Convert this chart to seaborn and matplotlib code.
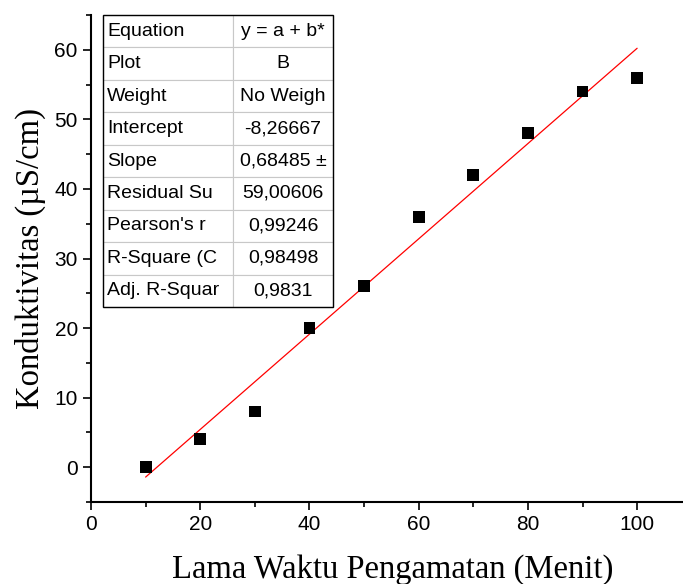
#!/usr/bin/env python3
"""Konduktivitas vs lama waktu pengamatan, with linear fit and Origin-style fit table."""

import numpy as np
import pandas as pd
import matplotlib
matplotlib.use("Agg")
import matplotlib.pyplot as plt
from matplotlib.patches import Rectangle
from matplotlib.ticker import MultipleLocator
import seaborn as sns

# data
waktu = [10, 20, 30, 40, 50, 60, 70, 80, 90, 100]
konduktivitas = [0, 4, 8, 20, 26, 36, 42, 48, 54, 56]

# fit table (text truncated as in the original)
table_keys = ["Equation", "Plot", "Weight", "Intercept", "Slope",
              "Residual Su", "Pearson's r", "R-Square (C", "Adj. R-Squar"]
table_vals = ["y = a + b*", "B", "No Weigh", "-8,26667", "0,68485 \u00b1",
              "59,00606", "0,99246", "0,98498", "0,9831"]

sns.set_style("ticks")
plt.rcParams['font.family'] = ['Liberation Sans', 'DejaVu Sans']
plt.rcParams['text.color'] = 'black'
plt.rcParams['axes.labelcolor'] = 'black'

df = pd.DataFrame({"x": waktu, "y": konduktivitas})

fig = plt.figure(figsize=(6.83, 5.84), dpi=100)
ax = fig.add_axes([91 / 683, 1 - 502 / 584, 592 / 683, 487 / 584])

sns.regplot(
    data=df, x="x", y="y", ax=ax, ci=None, truncate=True,
    marker="s",
    scatter_kws={"s": 72, "color": "black", "alpha": 1,
                 "edgecolor": "none", "zorder": 3},
    line_kws={"color": "red", "lw": 0.9, "zorder": 2},
)

ax.set_xlim(0, 108.4)
ax.set_ylim(-5, 65)
ax.xaxis.set_major_locator(MultipleLocator(20))
ax.xaxis.set_minor_locator(MultipleLocator(10))
ax.yaxis.set_major_locator(MultipleLocator(10))
ax.yaxis.set_minor_locator(MultipleLocator(5))
ax.tick_params(which="major", direction="out", length=6, width=1.2,
               labelsize=15, colors="black")
ax.tick_params(which="minor", direction="out", length=3.5, width=1.2,
               colors="black")

for side in ["top", "right"]:
    ax.spines[side].set_visible(False)
for side in ["left", "bottom"]:
    ax.spines[side].set_linewidth(1.5)
    ax.spines[side].set_color("black")

ax.set_xlabel("Lama Waktu Pengamatan (Menit)", family="Liberation Serif",
              fontsize=23.5)
ax.set_ylabel("Konduktivitas (\u00b5S/cm)", family="Liberation Serif",
              fontsize=23.5, labelpad=6)
ax.xaxis.set_label_coords((393 - 91) / 592, -0.108)

# fit result table in the upper left
x0, x1 = (103 - 91) / 592, (333 - 91) / 592
y0, y1 = (502 - 307) / 487, 1.0
tbl = ax.table(
    cellText=[[k, v] for k, v in zip(table_keys, table_vals)],
    cellLoc="left",
    colWidths=[130 / 230, 100 / 230],
    bbox=[x0, y0, x1 - x0, y1 - y0],
)
tbl.auto_set_font_size(False)
for (r, c), cell in tbl.get_celld().items():
    cell.set_edgecolor("#c8c8c8")
    cell.set_linewidth(0.8)
    cell.set_text_props(fontsize=14, color="black")
    if c == 1:
        cell.get_text().set_ha("center")
        cell._loc = "center"
    else:
        cell.PAD = 0.03
tbl.set_zorder(5)
ax.add_patch(Rectangle((x0, y0), x1 - x0, y1 - y0, transform=ax.transAxes,
                       fill=False, edgecolor="black", lw=1.0, zorder=6,
                       clip_on=False))

fig.savefig("out.png", dpi=100)
